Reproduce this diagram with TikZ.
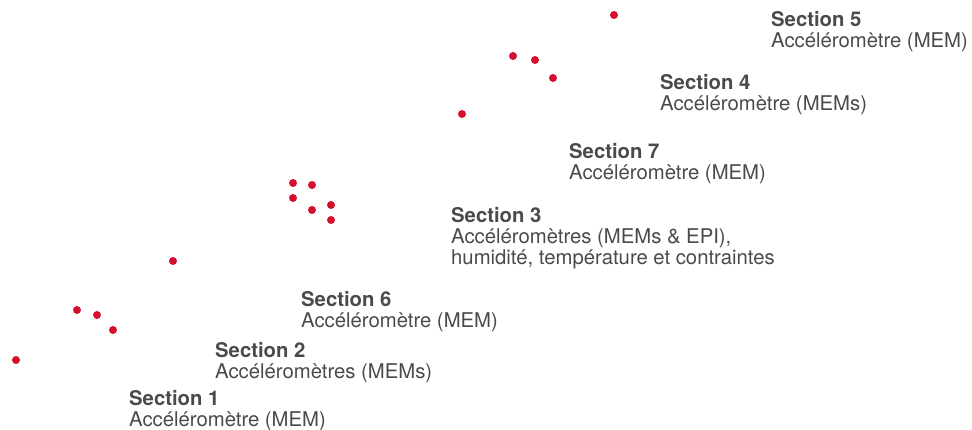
\documentclass[tikz,border=0pt]{standalone}
\usepackage{fontspec}
\setmainfont{TeX Gyre Heros}
\usepackage{tikz}

\definecolor{sensorred}{HTML}{D5102F}
\definecolor{textgray}{HTML}{4A4A4A}

\begin{document}
\begin{tikzpicture}[
        x=1pt, y=-1pt,
        sensor/.style={circle, fill=sensorred, inner sep=0pt, minimum size=8pt},
        sectionlabel/.style={anchor=base west, align=left, inner sep=0pt, text=textgray,
            font=\fontsize{20.3}{21}\selectfont}
    ]
    \useasboundingbox (0,0) rectangle (972,430);

    % capteurs
    \node[sensor] (c1) at (614, 15) {};
    \node[sensor] (c2) at (513, 56) {};
    \node[sensor] (c3) at (535, 60) {};
    \node[sensor] (c4) at (553, 78) {};
    \node[sensor] (c5) at (462, 114) {};
    \node[sensor] (c6) at (293, 183) {};
    \node[sensor] (c7) at (312, 185) {};
    \node[sensor] (c8) at (293, 198) {};
    \node[sensor] (c9) at (331, 205) {};
    \node[sensor] (c10) at (312, 210) {};
    \node[sensor] (c11) at (331, 220) {};
    \node[sensor] (c12) at (173, 261) {};
    \node[sensor] (c13) at (77, 310) {};
    \node[sensor] (c14) at (97, 315) {};
    \node[sensor] (c15) at (113, 330) {};
    \node[sensor] (c16) at (16, 360) {};

    % sections (ancre sur la ligne de base de la derniere ligne)
    \node[sectionlabel] (s5) at (771, 48) {\textbf{Section 5}\\Accéléromètre (MEM)};
    \node[sectionlabel] (s4) at (660, 111) {\textbf{Section 4}\\Accéléromètre (MEMs)};
    \node[sectionlabel] (s7) at (569, 180) {\textbf{Section 7}\\Accéléromètre (MEM)};
    \node[sectionlabel] (s3) at (451, 265) {\textbf{Section 3}\\Accéléromètres (MEMs \& EPI),\\humidité, température et contraintes};
    \node[sectionlabel] (s6) at (301, 328) {\textbf{Section 6}\\Accéléromètre (MEM)};
    \node[sectionlabel] (s2) at (215, 378) {\textbf{Section 2}\\Accéléromètres (MEMs)};
    \node[sectionlabel] (s1) at (129, 426) {\textbf{Section 1}\\Accéléromètre (MEM)};
\end{tikzpicture}
\end{document}
